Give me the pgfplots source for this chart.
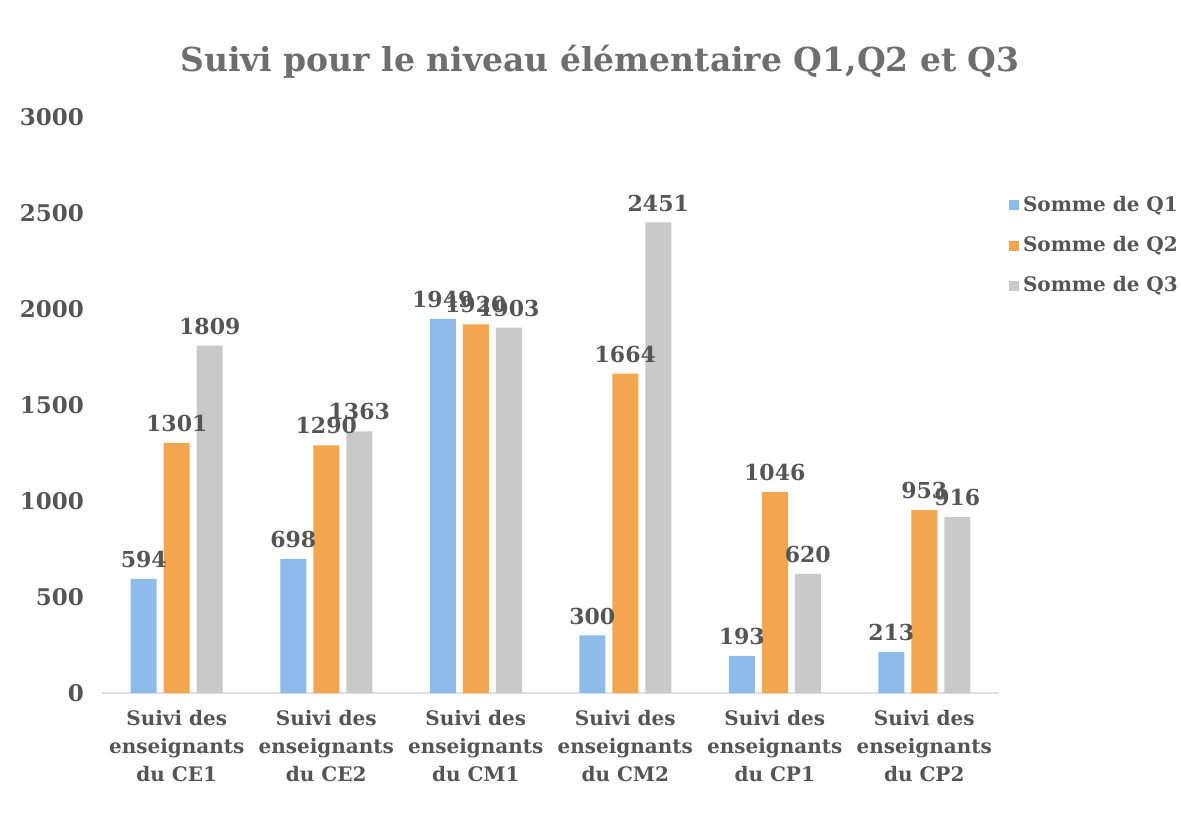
\documentclass[border=0pt]{standalone}
\usepackage{pgfplots}
\pgfplotsset{compat=1.18}
\usepackage{fontspec}
\setmainfont{DejaVu Serif}
\definecolor{QOne}{HTML}{8DBBEA}
\definecolor{QTwo}{HTML}{F2A650}
\definecolor{QThree}{HTML}{C9C9C9}
\definecolor{TxtGray}{HTML}{555555}
\definecolor{TitleGray}{HTML}{6E6E6E}
\begin{document}
\begin{tikzpicture}
\useasboundingbox (-51pt,-62.5pt) rectangle (539.5pt,346.5pt);
\begin{axis}[
    scale only axis,
    anchor=south west, at={(0,0)},
    width=448.5pt, height=288pt,
    ybar=3.5pt, bar width=13pt,
    xmin=-0.5, xmax=5.5, ymin=0, ymax=3000,
    xtick=data,
    xticklabels={{Suivi des\\enseignants\\du CE1},{Suivi des\\enseignants\\du CE2},{Suivi des\\enseignants\\du CM1},{Suivi des\\enseignants\\du CM2},{Suivi des\\enseignants\\du CP1},{Suivi des\\enseignants\\du CP2}},
    x tick label style={font=\bfseries\fontsize{10}{14}\selectfont, text=TxtGray, align=center, yshift=-5pt},
    ytick={0,500,...,3000},
    y tick label style={font=\bfseries\fontsize{11.5}{13}\selectfont, text=TxtGray, xshift=-5.5pt},
    /pgf/number format/assume math mode=true,
    /pgf/number format/1000 sep={},
    major tick length=0pt,
    axis x line*=bottom, axis y line*=left,
    x axis line style={draw=gray!25, line width=0.6pt},
    y axis line style={draw=none},
    nodes near coords,
    every node near coord/.append style={font=\bfseries\fontsize{11}{13}\selectfont, text=TxtGray, yshift=2pt},
    legend style={at={(1.004,0.877)}, anchor=north west, draw=none, fill=none,
        font=\bfseries\fontsize{10}{12}\selectfont, text=TxtGray, row sep=7pt,
        /tikz/every even column/.append style={column sep=0pt}},
    legend cell align=left,
    legend image code/.code={\fill[#1] (0pt,-2.5pt) rectangle (5pt,2.5pt);},
]
\addplot[fill=QOne, draw=none] coordinates {(0,594) (1,698) (2,1949) (3,300) (4,193) (5,213)};
\addlegendentry{Somme de Q1}
\addplot[fill=QTwo, draw=none] coordinates {(0,1301) (1,1290) (2,1920) (3,1664) (4,1046) (5,953)};
\addlegendentry{Somme de Q2}
\addplot[fill=QThree, draw=none] coordinates {(0,1809) (1,1363) (2,1903) (3,2451) (4,620) (5,916)};
\addlegendentry{Somme de Q3}
\end{axis}
\node[font=\bfseries\fontsize{16.5}{19}\selectfont, text=TitleGray] at (249pt,315.5pt) {Suivi pour le niveau élémentaire Q1,Q2 et Q3};
\end{tikzpicture}
\end{document}
